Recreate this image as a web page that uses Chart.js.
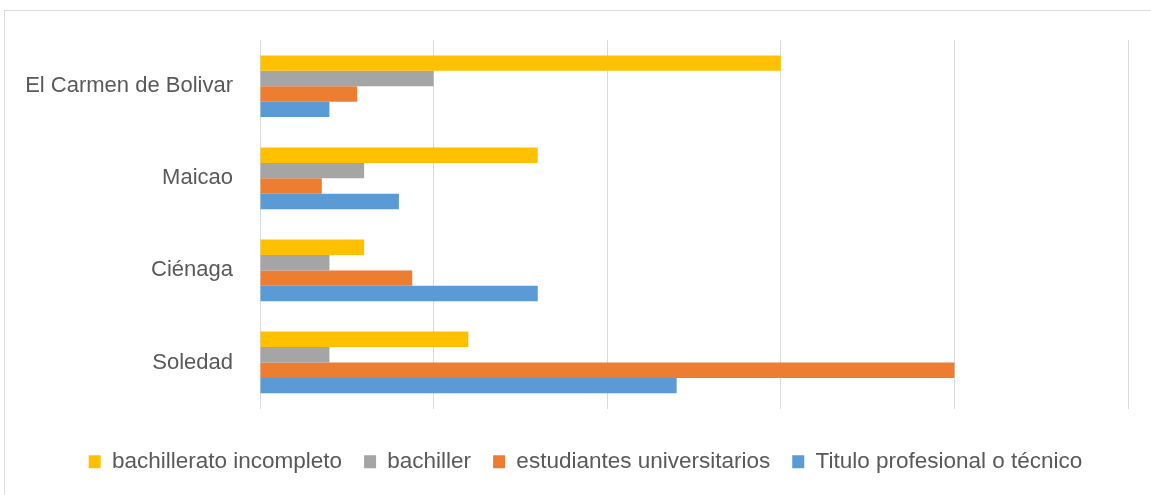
<!DOCTYPE html>
<html>
<head>
<meta charset="utf-8">
<script src="https://cdn.jsdelivr.net/npm/chart.js@4/dist/chart.umd.min.js"></script>
<style>
  html, body { margin: 0; padding: 0; background: #ffffff; }
  #wrap { position: relative; width: 1151px; height: 495px; overflow: hidden; }
  #frame { position: absolute; left: 4px; top: 10px; width: 1160px; height: 500px; border: 1px solid #d9d9d9; box-sizing: border-box; }
  canvas { position: absolute; left: 0; top: 0; }
</style>
</head>
<body>
<div id="wrap">
  <div id="frame"></div>
  <canvas id="c" width="1151" height="495"></canvas>
</div>
<script>
const categories = ['El Carmen de Bolivar', 'Maicao', 'Ciénaga', 'Soledad'];
const seriesNames = ['bachillerato incompleto', 'bachiller', 'estudiantes universitarios', 'Titulo profesional o técnico'];
const bachilleratoIncompleto = [3.0, 1.6, 0.6, 1.2];
const bachiller = [1.0, 0.6, 0.4, 0.4];
const estudiantesUniversitarios = [0.56, 0.356, 0.877, 4.0];
const tituloProfesional = [0.4, 0.8, 1.6, 2.4];
const xTicks = [0, 1, 2, 3, 4, 5];
const colors = ['#FFC000', '#A5A5A5', '#ED7D31', '#5B9BD5'];

const allSeries = [bachilleratoIncompleto, bachiller, estudiantesUniversitarios, tituloProfesional];
const FONT = 'Liberation Sans';

const shiftLegend = {
  id: 'shiftLegend',
  afterLayout(chart) {
    if (chart.legend) {
      chart.legend.left += 21.5;
      chart.legend.right += 21.5;
    }
  }
};

new Chart(document.getElementById('c'), {
  type: 'bar',
  data: {
    labels: categories,
    datasets: allSeries.map((d, i) => ({
      label: seriesNames[i],
      data: d,
      backgroundColor: colors[i],
      borderWidth: 0,
      categoryPercentage: 0.67,
      barPercentage: 1.0
    }))
  },
  plugins: [shiftLegend],
  options: {
    indexAxis: 'y',
    responsive: false,
    animation: false,
    layout: { padding: { left: 0, right: 23, top: 39, bottom: 12 } },
    plugins: {
      tooltip: { enabled: false },
      legend: {
        position: 'bottom',
        labels: {
          font: { family: FONT, size: 22.5 },
          color: '#595959',
          boxWidth: 12,
          boxHeight: 13,
          padding: 22
        }
      }
    },
    scales: {
      x: {
        min: xTicks[0],
        max: xTicks[xTicks.length - 1],
        ticks: { display: false, stepSize: 1 },
        grid: { color: '#d9d9d9', lineWidth: 1, drawTicks: false },
        border: { display: false },
        afterFit: (s) => { s.height = 20; }
      },
      y: {
        ticks: { font: { family: FONT, size: 22 }, color: '#595959', padding: 27 },
        grid: { display: false, drawTicks: false },
        border: { display: false },
        afterFit: (s) => { s.width = 260; }
      }
    }
  }
});
</script>
</body>
</html>
